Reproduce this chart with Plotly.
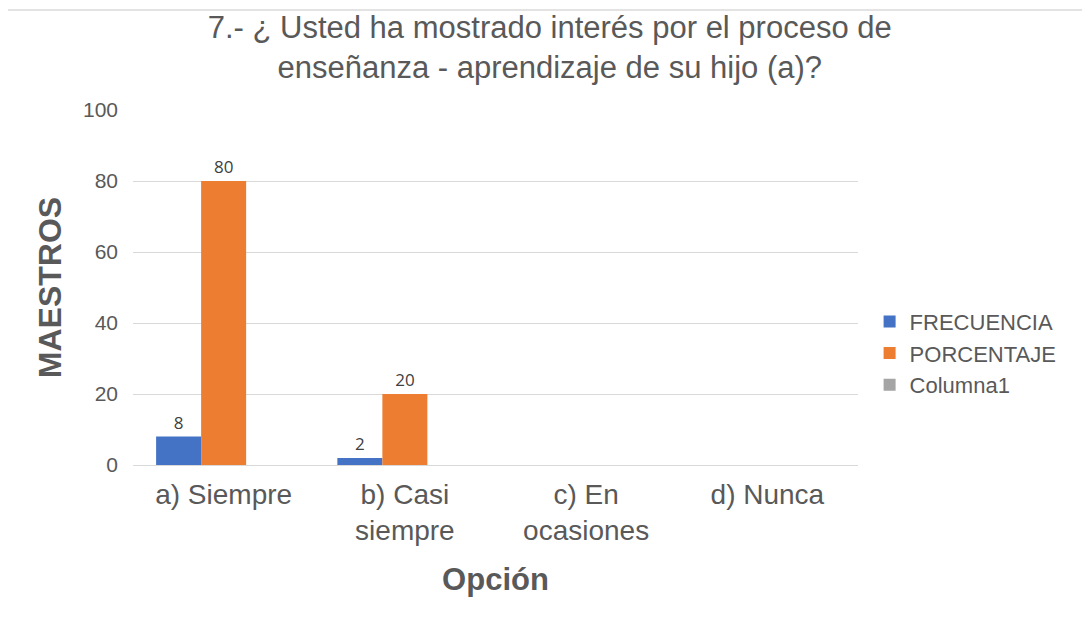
import plotly.graph_objects as go

categorias = ["a) Siempre", "b) Casi<br>siempre", "c) En<br>ocasiones", "d) Nunca"]
frecuencia = [8, 2, None, None]
porcentaje = [80, 20, None, None]
columna1 = [None, None, None, None]

series = [
    ("FRECUENCIA", frecuencia, "#4472C4"),
    ("PORCENTAJE", porcentaje, "#ED7D31"),
    ("Columna1", columna1, "#A5A5A5"),
]

GRIS = "#595959"

fig = go.Figure()
for nombre, valores, color in series:
    fig.add_trace(go.Bar(
        name=nombre, x=categorias, y=valores,
        marker=dict(color=color, line=dict(width=0)),
        texttemplate="%{y}", textposition="outside", cliponaxis=False,
        textfont=dict(size=17, color="#404040", family="Open Sans"),
    ))

# the page body has an 8px default margin, so margins are offset by 8px
fig.update_layout(
    width=1090, height=618,
    paper_bgcolor="white", plot_bgcolor="white",
    font=dict(family="Liberation Sans, Arial, sans-serif", color=GRIS),
    margin=dict(l=125, r=240, t=102, b=161),
    barmode="group", bargap=0.255, bargroupgap=0,
    title=dict(
        text="7.- ¿ Usted ha mostrado interés por el proceso de<br>enseñanza - aprendizaje de su hijo (a)?",
        x=0.497, xanchor="center", xref="container",
        y=0.952, yanchor="top", yref="container",
        font=dict(size=31, color=GRIS),
    ),
    legend=dict(
        x=1.016, y=0.315, xanchor="left", yanchor="middle",
        font=dict(size=22, color=GRIS),
        itemsizing="constant", tracegroupgap=0,
    ),
    showlegend=True,
)

fig.update_xaxes(
    showgrid=False, showline=False, ticks="",
    tickfont=dict(size=28, color=GRIS), ticklabelstandoff=10,
    title=dict(text="<b>Opción</b>", font=dict(size=31, color=GRIS), standoff=22),
)
fig.update_yaxes(
    range=[0, 100], dtick=20,
    showgrid=True, gridcolor="#d9d9d9", gridwidth=1,
    zeroline=True, zerolinecolor="#d9d9d9", zerolinewidth=1,
    showline=False, ticks="", ticklabelstandoff=14,
    tickfont=dict(size=21, color=GRIS),
    title=dict(text="<b>MAESTROS</b>", font=dict(size=32, color=GRIS), standoff=11),
)

fig.add_shape(
    type="rect", xref="paper", yref="paper",
    x0=-0.174, x1=1.33, y0=-0.45, y1=1.282,
    line=dict(color="#e3e3e3", width=2), fillcolor="rgba(0,0,0,0)", layer="below",
)

fig.write_html("out.html")
